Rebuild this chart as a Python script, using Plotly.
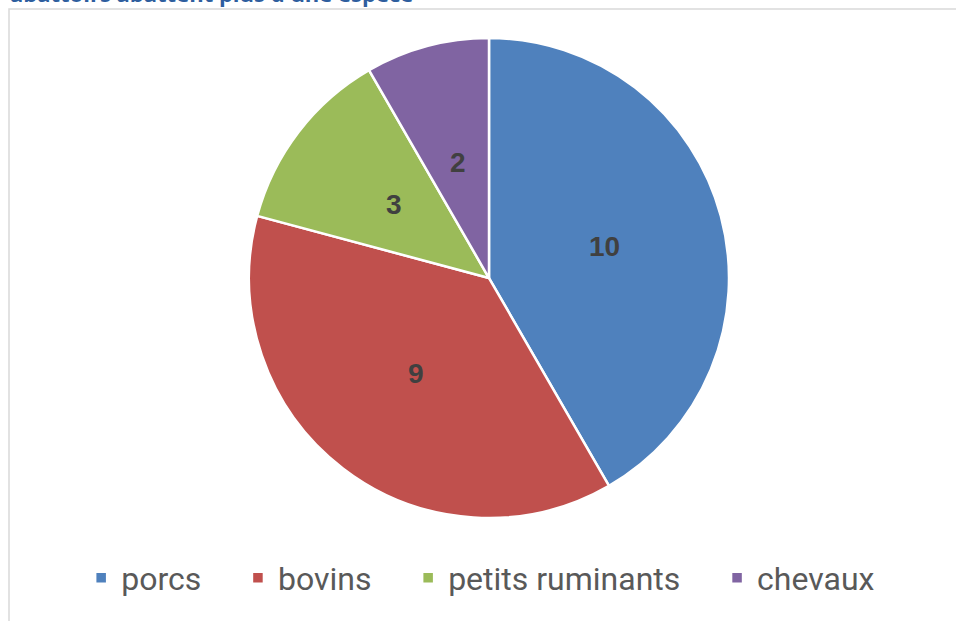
import math
import plotly.graph_objects as go

labels = ["porcs", "bovins", "petits ruminants", "chevaux"]
values = [10, 9, 3, 2]
colors = ["#4F81BD", "#C0504D", "#9BBB59", "#8064A2"]
title_text = "abattoirs abattent plus d'une espèce"

W, H = 956, 621
cx, cy, r = 489, 278, 240
pad = "\u00a0" * 4

fig = go.Figure(go.Pie(
    labels=[l + pad for l in labels], values=values, sort=False, direction="clockwise", rotation=0,
    marker=dict(colors=colors, line=dict(color="white", width=2.5)),
    textinfo="none",
    domain=dict(x=[(cx - r) / W, (cx + r) / W], y=[1 - (cy + r) / H, 1 - (cy - r) / H]),
    hovertext=labels, hoverinfo="text+value",
))

# data labels at half radius, at the middle angle of each slice
annotations = []
total = sum(values)
acc = 0
for v in values:
    mid = (acc + v / 2) / total * 2 * math.pi
    acc += v
    px = cx + 0.5 * r * math.sin(mid)
    py = cy - 0.5 * r * math.cos(mid)
    annotations.append(dict(text=str(v), x=px / W, y=1 - py / H, xref="paper", yref="paper",
                            showarrow=False, xanchor="center", yanchor="middle",
                            font=dict(family="Liberation Sans", size=28, color="#404040", weight="bold")))

annotations.append(dict(text=title_text, xref="paper", yref="paper", x=8 / W, y=1, xanchor="left",
                        yanchor="middle", yshift=7, showarrow=False,
                        font=dict(family="Open Sans", size=22, color="#2E5E9E", weight="bold")))

fig.update_layout(
    width=W, height=H, margin=dict(l=0, r=0, t=0, b=0),
    paper_bgcolor="white", plot_bgcolor="white",
    showlegend=True,
    legend=dict(orientation="h", x=0.519, xanchor="center", y=1 - 578 / H, yanchor="middle",
                font=dict(family="Roboto", size=32, color="#595959"),
                traceorder="normal"),
    shapes=[dict(type="rect", xref="paper", yref="paper", x0=9 / W, x1=1.01,
                 y0=-0.01, y1=1 - 9 / H, line=dict(color="#D9D9D9", width=1.5))],
    annotations=annotations,
)

fig.write_html("out.html")
